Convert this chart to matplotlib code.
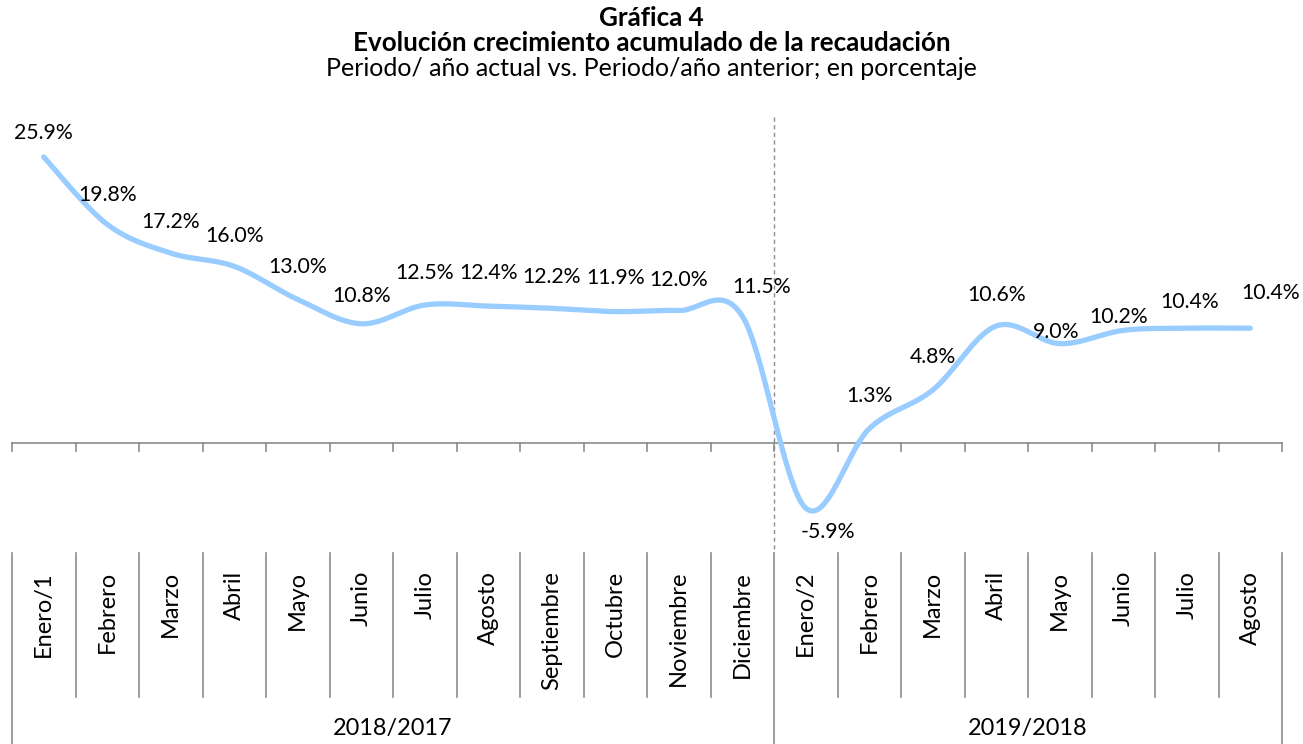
import numpy as np
import matplotlib
matplotlib.use("Agg")
import matplotlib.pyplot as plt

plt.rcParams['font.family'] = ['Lato', 'DejaVu Sans']

# data
months = ["Enero/1", "Febrero", "Marzo", "Abril", "Mayo", "Junio", "Julio", "Agosto",
          "Septiembre", "Octubre", "Noviembre", "Diciembre",
          "Enero/2", "Febrero", "Marzo", "Abril", "Mayo", "Junio", "Julio", "Agosto"]
growth = [25.9, 19.8, 17.2, 16.0, 13.0, 10.8, 12.5, 12.4, 12.2, 11.9, 12.0, 11.5,
          -5.9, 1.3, 4.8, 10.6, 9.0, 10.2, 10.4, 10.4]
groups = ["2018/2017", "2019/2018"]
group_sizes = [12, 8]

# label nudges in pixels (dx, dy), dy positive = up
label_offsets = [(0, 24), (0, 29), (0, 31), (0, 30), (0, 32), (0, 28), (0, 32), (0, 33),
                 (0, 31), (0, 34), (0, 31), (19, 29), (22, -24), (0, 33), (0, 33),
                 (0, 31), (-4, 12), (-5, 13), (3, 26), (20, 35)]

W, H = 1303, 744
X0_PX, CAT_PX = 12, 63.5       # left edge of first category, category width
Y0_PX, PX_PER_UNIT = 443, 11.04


def px2y(p):
    return (Y0_PX - p) / PX_PER_UNIT


def smooth(x, y, n=40):
    # Excel-like smoothed line: cubic Bezier with Catmull-Rom control points
    pts = np.column_stack([x, y]).astype(float)
    ext = np.vstack([pts[0], pts, pts[-1]])
    out = []
    t = np.linspace(0, 1, n)[:, None]
    for i in range(len(pts) - 1):
        p0, p3 = pts[i], pts[i + 1]
        p1 = p0 + (ext[i + 2] - ext[i]) / 6
        p2 = p3 - (ext[i + 3] - ext[i + 1]) / 6
        seg = ((1 - t) ** 3) * p0 + 3 * ((1 - t) ** 2) * t * p1 + 3 * (1 - t) * t ** 2 * p2 + t ** 3 * p3
        out.append(seg if i == 0 else seg[1:])
    out = np.vstack(out)
    return out[:, 0], out[:, 1]


fig = plt.figure(figsize=(W / 100, H / 100), dpi=100)
ax = fig.add_axes([0, 0, 1, 1])
ax.set_xlim(-0.5 - X0_PX / CAT_PX, -0.5 + (W - X0_PX) / CAT_PX)
ax.set_ylim(px2y(H), px2y(0))
ax.axis("off")

n = len(months)
xs = np.arange(n)
grey = "#8C8C8C"

# smoothed series
sx, sy = smooth(xs, growth)
ax.plot(sx, sy, color="#99CCFF", lw=3.8, solid_capstyle="round", zorder=3)

# data labels
for i, v in enumerate(growth):
    dx, dy = label_offsets[i]
    ax.annotate(f"{v:.1f}%", (xs[i], v), xytext=(dx, dy), textcoords="offset pixels",
                ha="center", va="center", fontsize=15.3, color="black", zorder=4)

# category axis
ax.plot([-0.5, n - 0.5], [0, 0], color=grey, lw=1.2, zorder=2)
tick_len = 8 / PX_PER_UNIT
for k in range(n + 1):
    ax.plot([k - 0.5, k - 0.5], [0, -tick_len], color=grey, lw=1.2, zorder=2)

box_top, box_bot, fig_bot = px2y(553), px2y(697), px2y(H)
bounds = np.concatenate([[0], np.cumsum(group_sizes)]) - 0.5
for k in range(n + 1):
    xb = k - 0.5
    bottom = fig_bot if xb in bounds else box_bot
    ax.plot([xb, xb], [box_top, bottom], color=grey, lw=1.2, clip_on=False)

for i, m in enumerate(months):
    ax.text(xs[i], px2y(571), m, rotation=90, ha="center", va="top", fontsize=17)

for g, (a, b) in enumerate(zip(bounds[:-1], bounds[1:])):
    ax.text((a + b) / 2, px2y(729), groups[g], ha="center", va="center", fontsize=16.9)

# dashed separator between the two periods
sep = bounds[1]
ax.plot([sep, sep], [px2y(117), box_top], color=grey, lw=1.0, ls=(0, (3, 2.5)), zorder=1)

# titles
fig.text(0.5, 1 - 18 / H, "Gráfica 4", ha="center", va="center", fontsize=18.7, fontweight="bold")
fig.text(0.5, 1 - 43 / H, "Evolución crecimiento acumulado de la recaudación",
         ha="center", va="center", fontsize=18.7, fontweight="bold")
fig.text(0.5, 1 - 68 / H, "Periodo/ año actual vs. Periodo/año anterior; en porcentaje",
         ha="center", va="center", fontsize=18)

fig.savefig("out.png", dpi=100)
